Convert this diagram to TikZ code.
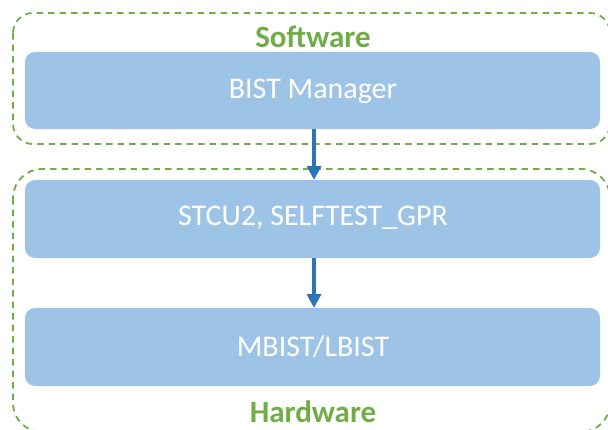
\documentclass[tikz,border=0pt]{standalone}
\usepackage{fontspec}
\setmainfont{Carlito}
\usetikzlibrary{arrows.meta}
\definecolor{boxblue}{HTML}{9DC3E6}
\definecolor{arrowblue}{HTML}{2E75B6}
\definecolor{grn}{HTML}{70AD47}
\begin{document}
\begin{tikzpicture}[x=1pt,y=-1pt,
  layer/.style={fill=boxblue, draw=none, rounded corners=10pt},
  grp/.style={draw=grn, line width=1.8pt, dash pattern=on 6.5pt off 5pt},
  lbl/.style={text=white, font=\fontsize{30}{32}\selectfont},
  grplbl/.style={text=grn, font=\fontsize{31}{33}\selectfont\bfseries},
  conn/.style={draw=arrowblue, line width=3.5pt, -{Triangle[length=14pt,width=14pt]}}]
\useasboundingbox (0,0) rectangle (608,429);
\clip (0,0) rectangle (608,429);
\draw[grp, rounded corners=20pt] (13,13) rectangle (610,144);
\draw[grp, rounded corners=29pt] (13,169) rectangle (610,432);
\node[grplbl] (sw) at (313,37) {Software};
\node[grplbl] (hw) at (313,412) {Hardware};
\fill[layer] (25,52) rectangle (600,129);
\node[lbl] (bm) at (313,91) {BIST Manager};
\fill[layer] (25,180) rectangle (600,258);
\node[lbl] (st) at (313,218) {STCU2, SELFTEST\_GPR};
\fill[layer] (25,308) rectangle (600,386);
\node[lbl] (mb) at (313,347) {MBIST/LBIST};
\coordinate (a1s) at (314,129);
\coordinate (a1e) at (314,180);
\coordinate (a2s) at (314,258);
\coordinate (a2e) at (314,308);
\draw[conn] (a1s) -- (a1e);
\draw[conn] (a2s) -- (a2e);
\end{tikzpicture}
\end{document}
